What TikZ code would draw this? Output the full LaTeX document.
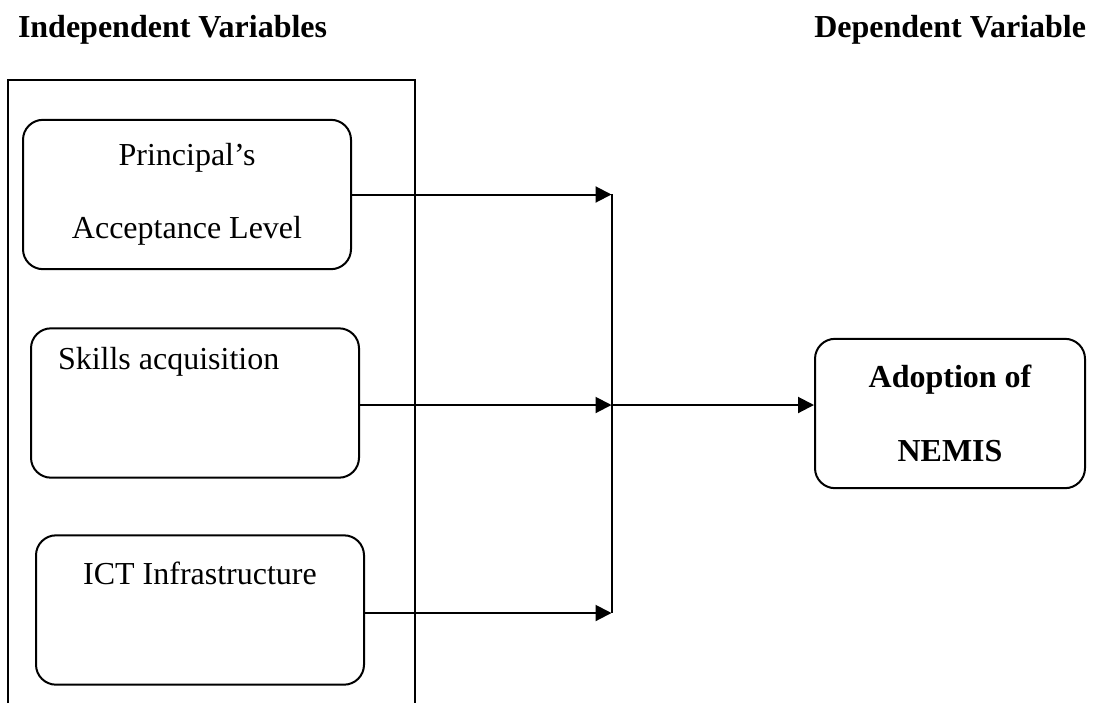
\documentclass[tikz,border=0pt]{standalone}
\usepackage{fontspec}
\setmainfont{Liberation Serif}
\usetikzlibrary{positioning, arrows.meta}

\begin{document}
\begin{tikzpicture}[x=0.375pt, y=-0.375pt, line width=0.75pt,
    font=\fontsize{12}{27.5}\selectfont,
    varbox/.style={draw, rounded corners=7.5pt, minimum width=123pt, minimum height=56pt, align=center},
    heading/.style={inner xsep=0pt, font=\fontsize{12}{27.5}\selectfont\bfseries},
    arr/.style={-{Triangle[length=6pt, width=6pt]}}]
    \useasboundingbox (0,0) rectangle (1096,703);
    % headings
    \node[heading, anchor=west] (indep) at (17,30) {Independent Variables};
    \node[heading, anchor=east] (dep) at (1087,30) {Dependent Variable};
    % frame round the independent variables, open at the bottom
    \draw (8,703) |- (415,80) -- (415,703);
    \node[varbox] (accept) at (187,194.5) {Principal's\\Acceptance Level};
    \node[varbox, align=flush left, text width=102.75pt] (skills) at (195,403) {Skills acquisition\\[6pt]\mbox{}};
    \node[varbox] (ict) at (200,610) {ICT Infrastructure\\\mbox{}};
    \node[varbox, minimum width=101.25pt, font=\fontsize{12}{27.5}\selectfont\bfseries] (adopt) at (950,413.5) {Adoption of\\NEMIS};
    % joining line
    \coordinate (jtop) at (611.5,194);
    \coordinate (jmid) at (611.5,405);
    \coordinate (jbot) at (611.5,613);
    \draw (jtop) -- (jbot);
    \draw[arr] (accept.east) -- (accept.east -| jtop);
    \draw[arr] (skills.east |- jmid) -- (jmid);
    \draw[arr] (ict.east |- jbot) -- (jbot);
    \draw[arr] (jmid) -- (jmid -| adopt.west);
\end{tikzpicture}
\end{document}
